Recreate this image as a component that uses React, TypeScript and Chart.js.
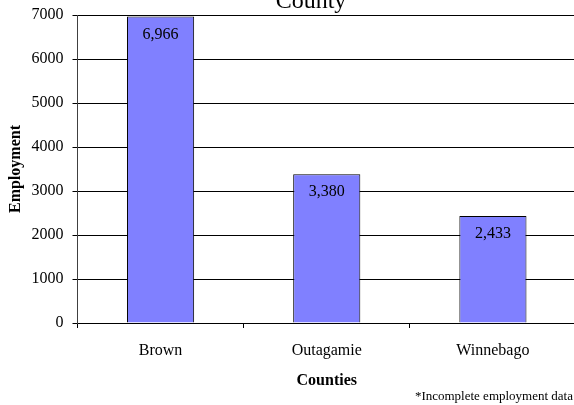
import React, { useEffect, useRef } from 'react';
import { Chart, registerables } from 'chart.js';

Chart.register(...registerables);

const categories = ['Brown', 'Outagamie', 'Winnebago'];
const employment = [6966, 3380, 2433];
const yMin = 0;
const yMax = 7000;
const yStep = 1000;
const titleText = 'County';
const xTitle = 'Counties';
const yTitle = 'Employment';
const footnote = '*Incomplete employment data';

const SERIF = "'Liberation Serif', 'Times New Roman', Times, serif";

export default function App() {
  const ref = useRef<HTMLCanvasElement>(null);

  useEffect(() => {
    const canvas = ref.current;
    if (!canvas) return;

    const textPlugin = {
      id: 'textPlugin',
      afterDatasetsDraw(chart: any) {
        const ctx = chart.ctx;
        const meta = chart.getDatasetMeta(0);
        ctx.save();
        ctx.fillStyle = '#000';
        ctx.font = `16px ${SERIF}`;
        ctx.textAlign = 'center';
        ctx.textBaseline = 'middle';
        meta.data.forEach((el: any, i: number) => {
          const v = chart.data.datasets[0].data[i] as number;
          ctx.fillText(v.toLocaleString('en-US'), el.x, el.y + 18);
        });
        ctx.restore();
      },
      afterDraw(chart: any) {
        const ctx = chart.ctx;
        ctx.save();
        ctx.fillStyle = '#000';
        ctx.font = `24px ${SERIF}`;
        ctx.textAlign = 'center';
        ctx.textBaseline = 'alphabetic';
        ctx.fillText(titleText, 311, 8);
        ctx.font = `13px ${SERIF}`;
        ctx.textAlign = 'right';
        ctx.fillText(footnote, 573, 400);
        ctx.restore();
      },
    };

    const chart = new Chart(canvas, {
      type: 'bar',
      data: {
        labels: categories,
        datasets: [
          {
            data: employment,
            backgroundColor: '#8080FF',
            borderColor: '#000',
            borderWidth: 1,
            categoryPercentage: 0.8,
            barPercentage: 0.505,
          },
        ],
      },
      options: {
        responsive: false,
        animation: false,
        devicePixelRatio: 1,
        layout: { padding: { top: 15, left: 0, right: 0, bottom: 0 } },
        plugins: {
          legend: { display: false },
          title: { display: false },
          tooltip: { enabled: false },
        },
        scales: {
          x: {
            type: 'category',
            offset: true,
            grid: {
              display: true,
              drawOnChartArea: false,
              drawTicks: true,
              tickLength: 5,
              color: '#000',
              offset: true,
            },
            border: { display: true, color: '#000', width: 1 },
            ticks: {
              color: '#000',
              font: { family: SERIF, size: 16 },
              padding: 13,
              maxRotation: 0,
            },
            title: {
              display: true,
              text: xTitle,
              color: '#000',
              font: { family: SERIF, size: 16, weight: 'bold' },
              padding: { top: 0, bottom: 15 },
            },
            afterFit(scale: any) {
              scale.height = 82;
              scale.paddingLeft = 0;
              scale.paddingRight = 0;
            },
          },
          y: {
            min: yMin,
            max: yMax,
            grid: {
              color: '#000',
              lineWidth: 1,
              tickLength: 5,
              drawTicks: true,
            },
            border: { display: true, color: '#404040', width: 1 },
            ticks: {
              stepSize: yStep,
              color: '#000',
              font: { family: SERIF, size: 16 },
              padding: 9,
              callback: (v: any) => String(v),
            },
            title: {
              display: true,
              text: yTitle,
              color: '#000',
              font: { family: SERIF, size: 16, weight: 'bold' },
              padding: { top: 6, bottom: 0 },
            },
            afterFit(scale: any) {
              scale.width = 77.5;
              scale.paddingTop = 0;
              scale.paddingBottom = 0;
            },
          },
        },
      },
      plugins: [textPlugin],
    } as any);

    return () => chart.destroy();
  }, []);

  return (
    <div
      style={{
        position: 'fixed',
        left: 0,
        top: 0,
        width: 574,
        height: 405,
        overflow: 'hidden',
        background: '#fff',
      }}
    >
      <canvas ref={ref} width={576} height={405} style={{ display: 'block', width: 576, height: 405 }} />
    </div>
  );
}
